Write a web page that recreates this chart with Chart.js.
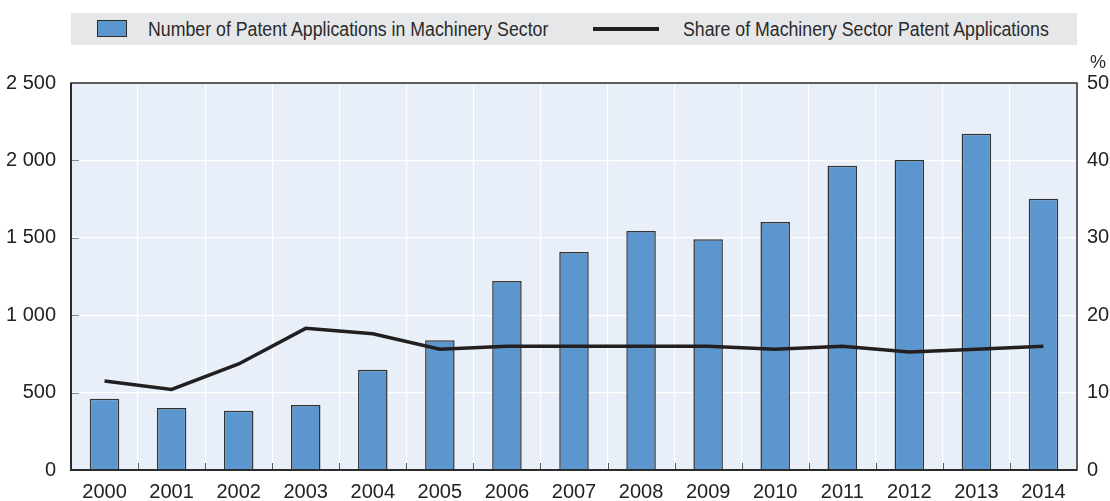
<!DOCTYPE html>
<html>
<head>
<meta charset="utf-8">
<script src="https://cdn.jsdelivr.net/npm/chart.js@4.4.1/dist/chart.umd.min.js"></script>
<style>
  html, body { margin:0; padding:0; background:#fff; }
  #wrap { position:relative; width:1110px; height:501px; font-family:"Liberation Sans",Arial,sans-serif; }
  #legend { position:absolute; left:71px; top:13px; width:1006px; height:32px; background:#e6e7e9; }
  .lg-text { position:absolute; top:0; height:32px; line-height:32px; font-size:20px; color:#2a2a2a; white-space:nowrap; transform:scaleX(0.887); transform-origin:0 50%; }
  #sw1 { position:absolute; left:26px; top:7px; width:28px; height:15px; background:#5b96cf; border:1px solid #2d2d2d; }
  #sw2 { position:absolute; left:522px; top:14px; width:66px; height:4px; background:#231f20; }
  #pct { position:absolute; left:1090px; top:52px; font-size:18px; color:#2a2a2a; }
  canvas { position:absolute; left:0; top:0; }
</style>
</head>
<body>
<div id="wrap">
  <canvas id="c" width="1110" height="501"></canvas>
  <div id="legend">
    <div id="sw1"></div>
    <div class="lg-text" style="left:77px">Number of Patent Applications in Machinery Sector</div>
    <div id="sw2"></div>
    <div class="lg-text" style="left:612px">Share of Machinery Sector Patent Applications</div>
  </div>
  <div id="pct">%</div>
</div>
<script>
const categories = ["2000","2001","2002","2003","2004","2005","2006","2007","2008","2009","2010","2011","2012","2013","2014"];
const patentApplications = [460, 400, 383, 420, 648, 838, 1221, 1408, 1544, 1490, 1602, 1966, 2003, 2172, 1753];
const sharePercent = [11.5, 10.4, 13.7, 18.3, 17.6, 15.6, 16.0, 16.0, 16.0, 16.0, 15.6, 16.0, 15.25, 15.6, 16.0];
const leftTicks = [0, 500, 1000, 1500, 2000, 2500];
const rightTicks = [0, 10, 20, 30, 40, 50];

const FONT = "'Liberation Sans',Arial,sans-serif";

const frame = {
  id: 'frame',
  beforeDraw(chart) {
    const {ctx, chartArea: a} = chart;
    ctx.save();
    ctx.fillStyle = '#e9eff8';
    ctx.fillRect(a.left, a.top, a.right - a.left, a.bottom - a.top);
    ctx.restore();
  },
  afterDatasetsDraw(chart) {
    const {ctx, chartArea: a, scales} = chart;
    ctx.save();
    ctx.strokeStyle = '#8a8a8a';
    ctx.lineWidth = 1;
    leftTicks.forEach(v => {
      if (v === 0 || v === 2500) return;
      const y = Math.round(scales.y.getPixelForValue(v)) + 0.5;
      ctx.beginPath(); ctx.moveTo(a.left, y); ctx.lineTo(a.left + 8, y); ctx.stroke();
    });
    ctx.strokeStyle = '#555';
    const n = categories.length;
    const w = (a.right - a.left) / n;
    for (let k = 1; k < n; k++) {
      const x = Math.round(a.left + k * w) + 0.5;
      ctx.beginPath(); ctx.moveTo(x, a.bottom); ctx.lineTo(x, a.bottom - 7); ctx.stroke();
    }
    ctx.strokeStyle = '#2b2b2b';
    ctx.lineWidth = 1.5;
    ctx.strokeRect(a.left, a.top, a.right - a.left, a.bottom - a.top);
    ctx.lineWidth = 2;
    ctx.beginPath();
    ctx.moveTo(a.left, a.top); ctx.lineTo(a.left, a.bottom); ctx.lineTo(a.right, a.bottom);
    ctx.stroke();
    ctx.restore();
  }
};

new Chart(document.getElementById('c'), {
  data: {
    labels: categories,
    datasets: [
      {
        type: 'line',
        label: 'Share of Machinery Sector Patent Applications',
        data: sharePercent,
        yAxisID: 'y1',
        borderColor: '#231f20',
        borderWidth: 3.5,
        pointRadius: 0,
        tension: 0,
        order: 0
      },
      {
        type: 'bar',
        label: 'Number of Patent Applications in Machinery Sector',
        data: patentApplications,
        yAxisID: 'y',
        backgroundColor: '#5b96cf',
        borderColor: '#333333',
        borderWidth: 1.5,
        borderSkipped: 'bottom',
        categoryPercentage: 1.0,
        barPercentage: 0.44,
        order: 1
      }
    ]
  },
  options: {
    responsive: false,
    devicePixelRatio: 1,
    animation: false,
    layout: { padding: { top: 83, left: 0, right: 0, bottom: 0 } },
    plugins: { legend: { display: false }, tooltip: { enabled: false } },
    scales: {
      x: {
        type: 'category',
        offset: true,
        grid: { offset: true, color: '#ffffff', lineWidth: 1.2, drawTicks: false },
        border: { display: false },
        ticks: { color: '#222', font: { family: FONT, size: 20 }, padding: 10, maxRotation: 0, autoSkip: false },
        afterFit(s) { s.height = 31; }
      },
      y: {
        position: 'left',
        min: 0, max: 2500,
        afterBuildTicks(s) { s.ticks = leftTicks.map(v => ({ value: v })); },
        grid: { color: '#ffffff', lineWidth: 1.2, drawTicks: false },
        border: { display: false },
        ticks: {
          color: '#222', font: { family: FONT, size: 20 }, padding: 15,
          callback: v => String(v).replace(/\B(?=(\d{3})+(?!\d))/g, ' ')
        },
        afterFit(s) { s.width = 71; }
      },
      y1: {
        position: 'right',
        min: 0, max: 50,
        afterBuildTicks(s) { s.ticks = rightTicks.map(v => ({ value: v })); },
        grid: { display: false, drawTicks: false },
        border: { display: false },
        ticks: { color: '#222', font: { family: FONT, size: 20 }, padding: 10 },
        afterFit(s) { s.width = 33; }
      }
    }
  },
  plugins: [frame]
});
</script>
</body>
</html>
